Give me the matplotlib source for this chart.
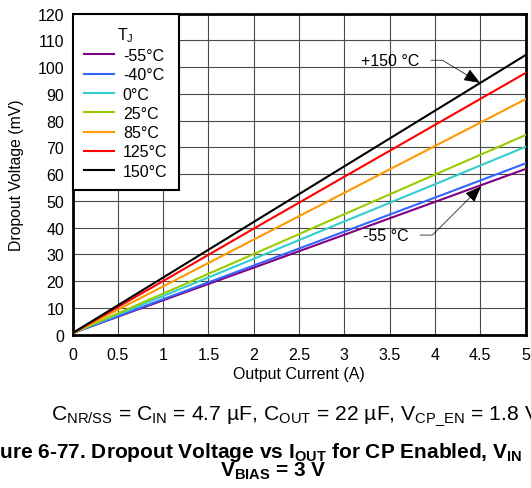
import matplotlib
matplotlib.use("Agg")
import matplotlib.pyplot as plt
import numpy as np

plt.rcParams['font.family'] = ['Liberation Sans', 'DejaVu Sans']
plt.rcParams['mathtext.fontset'] = 'custom'
plt.rcParams['mathtext.rm'] = 'Liberation Sans'
plt.rcParams['mathtext.bf'] = 'Liberation Sans:bold'
plt.rcParams['mathtext.it'] = 'Liberation Sans:italic'

# Data
current = [0, 1, 2, 3, 4, 5]
labels = ['-55°C', '-40°C', '0°C', '25°C', '85°C', '125°C', '150°C']
colors = ['#800080', '#3366ff', '#33cccc', '#99cc00', '#ff9900', '#ff0000', '#000000']
v_m55 = [0.5, 12.8, 25.0, 37.3, 49.6, 61.9]
v_m40 = [0.5, 13.2, 25.8, 38.5, 51.2, 64.0]
v_0 = [0.5, 14.4, 28.3, 42.3, 56.2, 70.2]
v_25 = [0.5, 15.3, 30.1, 45.0, 59.8, 74.6]
v_85 = [0.5, 18.0, 35.5, 53.0, 70.5, 88.0]
v_125 = [0.5, 20.0, 39.6, 59.0, 78.4, 97.8]
v_150 = [0.5, 21.3, 42.1, 62.9, 83.7, 104.5]
series = [v_m55, v_m40, v_0, v_25, v_85, v_125, v_150]

xticks = [0, 0.5, 1, 1.5, 2, 2.5, 3, 3.5, 4, 4.5, 5]
xticklabels = ['0', '0.5', '1', '1.5', '2', '2.5', '3', '3.5', '4', '4.5', '5']
yticks = list(range(0, 121, 10))

W, H = 531, 489
fig = plt.figure(figsize=(W / 100, H / 100), dpi=100)
ax = fig.add_axes([72.5 / W, 1 - 335.5 / H, (525.5 - 72.5) / W, (335.5 - 14.7) / H])

for lab, col, vals in zip(labels, colors, series):
    ax.plot(current, vals, color=col, lw=1.5, label=lab, zorder=3)

ax.set_xlim(0, 5)
ax.set_ylim(0, 120)
ax.set_xticks(xticks)
ax.set_xticklabels(xticklabels)
ax.set_yticks(yticks)
ax.tick_params(axis='both', length=0, labelsize=11.5)
ax.tick_params(axis='x', pad=9)
ax.tick_params(axis='y', pad=6)
ax.grid(True, color='#4a4a4a', lw=0.8, zorder=1)
for sp in ax.spines.values():
    sp.set_linewidth(2)
    sp.set_color('black')

ax.set_xlabel('Output Current (A)', fontsize=11.5)
ax.set_ylabel('Dropout Voltage (mV)', fontsize=11.3)
ax.xaxis.set_label_coords(0.5, -(375 - 335.5) / (335.5 - 14.7), transform=ax.transAxes)
ax.xaxis.label.set_va('center')
ax.yaxis.set_label_coords(-(72.5 - 17) / (525.5 - 72.5), 0.5, transform=ax.transAxes)
ax.yaxis.label.set_va('center')

leg = ax.legend(loc='upper left', borderaxespad=0, title='T$_\\mathrm{J}$', fontsize=11.5,
                title_fontsize=11.5, fancybox=False, framealpha=1, edgecolor='black',
                handlelength=1.9, handletextpad=0.55, labelspacing=0.27, borderpad=0.7)
leg.get_frame().set_linewidth(1.5)
leg.set_zorder(5)

# Annotations
ax.annotate('+150 °C', xy=(4.5, 94.1), xytext=(3.51, 102.6), fontsize=11.5,
            ha='center', va='center', zorder=6,
            arrowprops=dict(arrowstyle='-|>,head_length=0.9,head_width=0.35',
                            connectionstyle='angle,angleA=0,angleB=-31,rad=0',
                            color='black', lw=0.5, shrinkA=6, shrinkB=0))
ax.annotate('-55 °C', xy=(4.51, 55.4), xytext=(3.46, 37.2), fontsize=11.5,
            ha='center', va='center', zorder=6,
            arrowprops=dict(arrowstyle='-|>,head_length=0.9,head_width=0.35',
                            connectionstyle='angle,angleA=0,angleB=45,rad=0',
                            color='black', lw=0.5, shrinkA=6, shrinkB=0))

# Captions (cropped in reference)
fig.text(50.7 / W, 1 - 420 / H,
         'C$_\\mathrm{NR/SS}$ = C$_\\mathrm{IN}$ = 4.7 µF, C$_\\mathrm{OUT}$ = 22 µF, '
         'V$_\\mathrm{CP\\_EN}$ = 1.8 V',
         fontsize=15.2, ha='left', va='baseline')
fig.text(522 / W, 1 - 458 / H,
         'Figure 6-77. Dropout Voltage vs I$_\\mathbf{OUT}$ for CP Enabled, V$_\\mathbf{IN}$',
         fontsize=15, fontweight='bold', ha='right', va='baseline')
fig.text(273 / W, 1 - 477 / H, 'V$_\\mathbf{BIAS}$ = 3 V',
         fontsize=15, fontweight='bold', ha='center', va='baseline')

fig.savefig('out.png', dpi=100)
